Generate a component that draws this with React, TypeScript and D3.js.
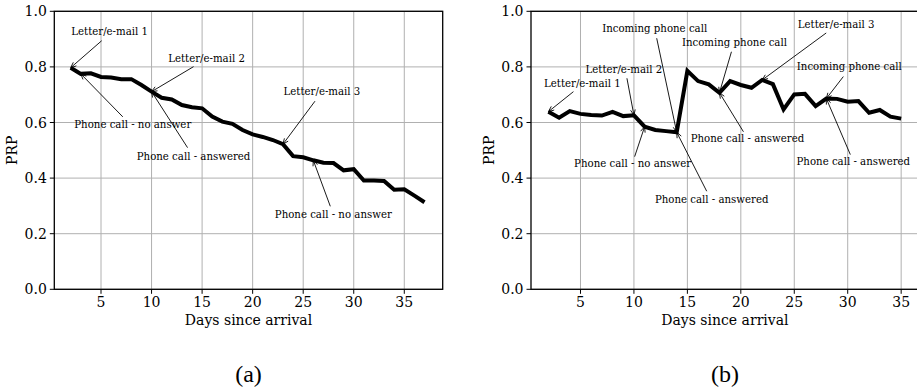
import React from "react";
import * as d3 from "d3";

// days since arrival
const daysA = d3.range(2, 38);
const daysB = d3.range(2, 36);

// PRP values, panel (a)
const prpA = [
  0.797, 0.775, 0.777, 0.764, 0.762, 0.756, 0.756, 0.735, 0.711, 0.689,
  0.683, 0.663, 0.655, 0.651, 0.621, 0.603, 0.595, 0.573, 0.557, 0.548,
  0.537, 0.522, 0.479, 0.475, 0.464, 0.455, 0.454, 0.428, 0.432, 0.391,
  0.391, 0.39, 0.358, 0.36, 0.337, 0.313,
];

// PRP values, panel (b)
const prpB = [
  0.639, 0.617, 0.641, 0.631, 0.627, 0.625, 0.638, 0.623, 0.626, 0.585,
  0.573, 0.569, 0.565, 0.786, 0.749, 0.737, 0.707, 0.749, 0.735, 0.725,
  0.753, 0.738, 0.647, 0.701, 0.703, 0.659, 0.686, 0.685, 0.675, 0.677,
  0.635, 0.645, 0.621, 0.614,
];

const xTicks = [5, 10, 15, 20, 25, 30, 35];
const yTicks = [0, 0.2, 0.4, 0.6, 0.8, 1.0];

// annotations: text, target day, text offset (dx, dy), arrow start offset (sx, sy)
const notesA = [
  { text: "Letter/e-mail 1", day: 2, dx: 39, dy: -33, sx: 31, sy: -27 },
  { text: "Letter/e-mail 2", day: 10, dx: 55, dy: -30, sx: 42, sy: -25 },
  { text: "Phone call - no answer", day: 3, dx: 52, dy: 54, sx: 42, sy: 43 },
  { text: "Phone call - answered", day: 10, dx: 42, dy: 68, sx: 36, sy: 56 },
  { text: "Letter/e-mail 3", day: 23, dx: 39, dy: -49, sx: 32, sy: -43 },
  { text: "Phone call - no answer", day: 26, dx: 20, dy: 58, sx: 17, sy: 46 },
];

const notesB = [
  { text: "Letter/e-mail 1", day: 2, dx: 34, dy: -25, sx: 25, sy: -20 },
  { text: "Letter/e-mail 2", day: 10, dx: -10, dy: -42, sx: -7, sy: -37 },
  { text: "Incoming phone call", day: 14, dx: -22, dy: -100, sx: -20, sy: -94 },
  { text: "Phone call - no answer", day: 11, dx: -12, dy: 40, sx: -10, sy: 30 },
  { text: "Phone call - answered", day: 14, dx: 35, dy: 71, sx: 30, sy: 59 },
  { text: "Incoming phone call", day: 18, dx: 15, dy: -47, sx: 12, sy: -41 },
  { text: "Phone call - answered", day: 18, dx: 28, dy: 49, sx: 24, sy: 39 },
  { text: "Letter/e-mail 3", day: 22, dx: 74, dy: -52, sx: 64, sy: -47 },
  { text: "Incoming phone call", day: 28, dx: 23, dy: -29, sx: 17, sy: -22 },
  { text: "Phone call - answered", day: 28, dx: 27, dy: 66, sx: 24, sy: 56 },
];

const font = "'DejaVu Serif', 'Liberation Serif', serif";
const top = 11.3;
const bottom = 289.3;

type Note = { text: string; day: number; dx: number; dy: number; sx: number; sy: number };

function Panel({ days, values, notes, left, right, domain, caption, labelX }: {
  days: number[]; values: number[]; notes: Note[]; left: number; right: number;
  domain: [number, number]; caption: string; labelX: number;
}) {
  const x = d3.scaleLinear().domain(domain).range([left, right]);
  const y = d3.scaleLinear().domain([0, 1]).range([bottom, top]);
  const line = d3.line<number>().x((_, i) => x(days[i])).y((v) => y(v));
  const cx = (left + right) / 2;

  const arrow = (n: Note) => {
    const i = days.indexOf(n.day);
    const tx = x(n.day);
    const ty = y(values[i]);
    const x0 = tx + n.sx;
    const y0 = ty + n.sy;
    const a = Math.atan2(ty - y0, tx - x0);
    const h = 6;
    const w = 0.4;
    const p1 = [tx - h * Math.cos(a - w), ty - h * Math.sin(a - w)];
    const p2 = [tx - h * Math.cos(a + w), ty - h * Math.sin(a + w)];
    return {
      tx, ty,
      d: `M${x0},${y0}L${tx},${ty}M${p1[0]},${p1[1]}L${tx},${ty}L${p2[0]},${p2[1]}`,
    };
  };

  return (
    <g style={{ fontFamily: font }}>
      <defs>
        <clipPath id={"clip" + caption}>
          <rect x={left} y={top} width={right - left} height={bottom - top} />
        </clipPath>
      </defs>
      {xTicks.map((t) => (
        <line key={"gx" + t} x1={x(t)} x2={x(t)} y1={top} y2={bottom} stroke="#b0b0b0" strokeWidth={1} />
      ))}
      {yTicks.map((t) => (
        <line key={"gy" + t} x1={left} x2={right} y1={y(t)} y2={y(t)} stroke="#b0b0b0" strokeWidth={1} />
      ))}
      <path d={line(values) || ""} fill="none" stroke="#000" strokeWidth={4} strokeLinejoin="miter" clipPath={`url(#clip${caption})`} />
      <rect x={left} y={top} width={right - left} height={bottom - top} fill="none" stroke="#000" strokeWidth={1.3} />
      {xTicks.map((t) => (
        <g key={"tx" + t}>
          <line x1={x(t)} x2={x(t)} y1={bottom} y2={bottom + 4.5} stroke="#000" strokeWidth={1} />
          <text x={x(t)} y={306.5} textAnchor="middle" fontSize={14}>{t}</text>
        </g>
      ))}
      {yTicks.map((t) => (
        <g key={"ty" + t}>
          <line x1={left - 4.5} x2={left} y1={y(t)} y2={y(t)} stroke="#000" strokeWidth={1} />
          <text x={left - 7.5} y={y(t) + 5} textAnchor="end" fontSize={14}>{d3.format(".1f")(t)}</text>
        </g>
      ))}
      <text x={cx} y={325} textAnchor="middle" fontSize={14}>Days since arrival</text>
      <text transform={`translate(${labelX},${(top + bottom) / 2}) rotate(-90)`} textAnchor="middle" fontSize={14}>PRP</text>
      {notes.map((n, k) => {
        const a = arrow(n);
        return (
          <g key={"n" + k}>
            <path d={a.d} fill="none" stroke="#000" strokeWidth={0.9} />
            <text x={a.tx + n.dx} y={a.ty + n.dy} textAnchor="middle" fontSize={10.2}>{n.text}</text>
          </g>
        );
      })}
      <text x={cx} y={382} textAnchor="middle" fontSize={24} style={{ fontFamily: "'Liberation Serif', serif" }}>{caption}</text>
    </g>
  );
}

export default function App() {
  return (
    <svg width={917} height={392} style={{ position: "absolute", left: 0, top: 0, background: "#fff" }}>
      <Panel days={daysA} values={prpA} notes={notesA} left={54.3} right={442.7} domain={[0.38, 38.8]} caption="(a)" labelX={17} />
      <Panel days={daysB} values={prpB} notes={notesB} left={531} right={918.8} domain={[0.37, 36.65]} caption="(b)" labelX={494} />
    </svg>
  );
}
